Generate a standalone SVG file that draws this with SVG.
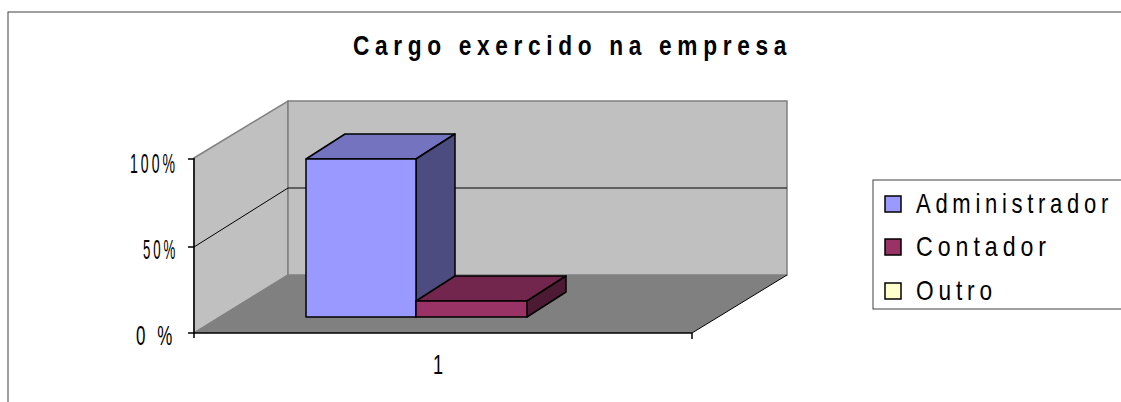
<svg xmlns="http://www.w3.org/2000/svg" width="1121" height="402" viewBox="0 0 1121 402">
<style>
text{font-family:"Liberation Sans",Arial,sans-serif;fill:#000}
.t{font-size:28px;font-weight:bold;letter-spacing:7px}
.lab{font-size:28px;letter-spacing:6px}
.leg{font-size:28px;letter-spacing:6px}
.wall{fill:#C0C0C0;stroke:#808080;stroke-width:1.5}
.grid{stroke:#000;stroke-width:1;fill:none}
.ax{stroke:#000;stroke-width:1.5;fill:none}
.bar{stroke:#000;stroke-width:1.5;stroke-linejoin:round}
.sw{stroke:#000;stroke-width:1.5}
</style>
<rect x="8" y="12" width="1130" height="400" fill="#fff" stroke="#404040" stroke-width="1"/>
<g id="title"><text class="t" x="353" y="55" textLength="439" lengthAdjust="spacingAndGlyphs">Cargo exercido na empresa</text></g>
<g id="plot">
<polygon class="wall" points="194,158 288,101 288,275 194,333"/>
<rect class="wall" x="288" y="101" width="499" height="174"/>
<polygon points="194,333 288,275 787,275 692,333" fill="#808080"/>
<polyline class="grid" points="194,247 288,188 787,188"/>
<line class="ax" x1="194" y1="158" x2="194" y2="338"/>
<line class="ax" x1="188" y1="159" x2="194" y2="159"/>
<line class="ax" x1="188" y1="247" x2="194" y2="247"/>
<line class="ax" x1="188" y1="333" x2="692" y2="333"/>
<line class="ax" x1="692" y1="333" x2="692" y2="339"/>
<line x1="692" y1="333" x2="787" y2="275" stroke="#000" stroke-width="1"/>
</g>
<g id="bar-administrador">
<polygon class="bar" points="306,159 345,134 455,134 416,159" fill="#7373BF"/>
<polygon class="bar" points="416,159 455,134 455,292 416,317" fill="#4C4C80"/>
<rect class="bar" x="306" y="159" width="110" height="158" fill="#9999FF"/>
</g>
<g id="bar-contador">
<polygon class="bar" points="416,301 455,276 566,276 527,301" fill="#73264D"/>
<polygon class="bar" points="527,301 566,276 566,292 527,317" fill="#4D1A33"/>
<rect class="bar" x="416" y="301" width="111" height="16" fill="#993366"/>
</g>
<g id="axis-labels">
<text class="lab" x="130" y="173" textLength="48" lengthAdjust="spacingAndGlyphs">100%</text>
<text class="lab" x="143" y="259" textLength="35" lengthAdjust="spacingAndGlyphs">50%</text>
<text class="lab" x="136" y="345" textLength="40" lengthAdjust="spacingAndGlyphs">0 %</text>
<text class="lab" x="433" y="374" textLength="14" lengthAdjust="spacingAndGlyphs">1</text>
</g>
<g id="legend">
<rect x="873" y="180" width="260" height="129" fill="#fff" stroke="#404040" stroke-width="1"/>
<rect class="sw" x="885" y="196" width="16" height="16" fill="#9999FF"/>
<text class="leg" x="916" y="213" textLength="197" lengthAdjust="spacingAndGlyphs">Administrador</text>
<rect class="sw" x="885" y="239" width="16" height="16" fill="#993366"/>
<text class="leg" x="916" y="256" textLength="135" lengthAdjust="spacingAndGlyphs">Contador</text>
<rect class="sw" x="885" y="283" width="16" height="16" fill="#FFFFCC"/>
<text class="leg" x="916" y="300" textLength="81" lengthAdjust="spacingAndGlyphs">Outro</text>
</g>
</svg>
